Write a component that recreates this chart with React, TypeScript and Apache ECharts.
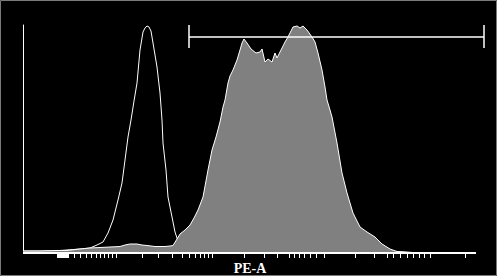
import React, { useEffect, useRef } from "react";
import * as echarts from "echarts";

// x: display channel (0..463), y: event count (0..228)
const axisLabelText = "PE-A";

const channelTicks: number[] = [
  34, 35, 36, 37, 38, 39, 40, 41, 42, 43, 44, 45,
  51, 57, 63, 68, 73, 77, 81, 85, 89, 93,
  119, 135, 149, 159, 166, 172, 177, 181, 185, 189,
  221, 241, 254, 266, 271, 276, 281, 287, 293, 301,
  332, 351, 364, 370, 377, 384, 390, 396, 401, 407, 442,
];

// unstained / control histogram (open white outline)
const controlHistogram: [number, number][] = [
  [0, 2], [17, 2], [37, 2.5], [57, 4], [67, 5], [74, 8], [80, 11], [85, 20],
  [90, 33], [95, 53], [99, 70], [102, 93], [105, 116], [108, 133], [111, 152],
  [114, 170], [117, 203], [120, 221], [122, 225], [124, 227], [126, 226],
  [128, 222], [130, 210], [132, 198], [134, 186], [137, 160], [139, 133],
  [140, 110], [143, 83], [145, 56], [149, 36], [152, 21], [154, 15], [157, 8],
  [160, 5], [167, 3], [197, 2], [277, 1], [377, 1], [397, 0], [453, 0],
];

// stained sample histogram (filled grey)
const sampleHistogram: [number, number][] = [
  [0, 2], [17, 2], [37, 2.5], [44, 2.5], [57, 4], [67, 5], [77, 5.5], [87, 6],
  [97, 6.5], [102, 8], [107, 9], [114, 9], [119, 8], [124, 7.5], [132, 6.5],
  [142, 6.5], [147, 7], [150, 7.5], [154, 14], [157, 19], [162, 23], [167, 28],
  [171, 35], [175, 43], [180, 56], [185, 83], [189, 103], [193, 116], [197, 131],
  [200, 146], [202, 153], [205, 170], [207, 177], [210, 183], [214, 193],
  [217, 203], [219, 210], [221, 214], [224, 210], [228, 204], [233, 200],
  [237, 201], [239, 204], [242, 191], [245, 194], [249, 191], [252, 200],
  [254, 195], [257, 201], [262, 211], [265, 216], [270, 226], [274, 227],
  [277, 225], [280, 227], [284, 223], [289, 216], [292, 211], [295, 200],
  [299, 183], [302, 166], [304, 153], [307, 143], [309, 136], [314, 110],
  [319, 80], [324, 60], [330, 40], [337, 26], [344, 21], [352, 16], [359, 9],
  [367, 4], [374, 1.5], [382, 1], [390, 0.5], [397, 0], [453, 0],
];

const gateRange: [number, number] = [166, 461];
const gateLevel = 216;
const gateTickSpan: [number, number] = [205, 228];
const axisExtent: [number, number] = [0, 453];

export default function App() {
  const ref = useRef<HTMLDivElement>(null);

  useEffect(() => {
    const chart = echarts.init(ref.current!, null, { renderer: "svg" });
    const white = "#ffffff";
    chart.setOption({
      animation: false,
      backgroundColor: "#000000",
      grid: { left: 23, top: 25, right: 11, bottom: 23 },
      xAxis: {
        type: "value",
        min: 0,
        max: 463,
        axisLine: { show: false },
        axisTick: {
          show: true,
          customValues: channelTicks,
          length: 5,
          lineStyle: { color: white, width: 1 },
        },
        axisLabel: { show: false },
        splitLine: { show: false },
      },
      yAxis: {
        type: "value",
        min: 0,
        max: 228,
        axisLine: { show: true, onZero: false, lineStyle: { color: white, width: 1 } },
        axisTick: { show: false },
        axisLabel: { show: false },
        splitLine: { show: false },
      },
      series: [
        {
          type: "line",
          data: controlHistogram,
          symbol: "none",
          silent: true,
          z: 2,
          lineStyle: { color: white, width: 1 },
        },
        {
          type: "line",
          data: sampleHistogram,
          symbol: "none",
          silent: true,
          z: 3,
          lineStyle: { color: white, width: 1 },
          areaStyle: { color: "#808080", opacity: 1 },
        },
        {
          type: "line",
          data: [[gateRange[0], gateLevel], [gateRange[1], gateLevel]],
          symbol: "none",
          silent: true,
          clip: false,
          z: 4,
          lineStyle: { color: white, width: 1.5 },
        },
        {
          type: "line",
          data: [[gateRange[0], gateTickSpan[0]], [gateRange[0], gateTickSpan[1]]],
          symbol: "none",
          silent: true,
          clip: false,
          z: 4,
          lineStyle: { color: white, width: 1.5 },
        },
        {
          type: "line",
          data: [[gateRange[1], gateTickSpan[0]], [gateRange[1], gateTickSpan[1]]],
          symbol: "none",
          silent: true,
          clip: false,
          z: 4,
          lineStyle: { color: white, width: 1.5 },
        },
        {
          type: "line",
          data: [[axisExtent[0], 0], [axisExtent[1], 0]],
          symbol: "none",
          silent: true,
          clip: false,
          z: 5,
          lineStyle: { color: white, width: 2 },
        },
      ],
      graphic: [
        {
          type: "rect",
          shape: { x: 0.5, y: 0.5, width: 496, height: 275 },
          style: { fill: "none", stroke: "#7a7a7a", lineWidth: 1 },
          silent: true,
          z: 10,
        },
        {
          type: "text",
          x: 250,
          y: 268,
          style: {
            text: axisLabelText,
            fill: white,
            fontFamily: "Liberation Serif",
            fontWeight: "bold",
            fontSize: 14,
            align: "center",
            verticalAlign: "middle",
          },
          silent: true,
          z: 10,
        },
      ],
    });
    return () => chart.dispose();
  }, []);

  return (
    <div
      ref={ref}
      style={{ position: "fixed", left: 0, top: 0, width: 497, height: 276, background: "#000" }}
    />
  );
}
